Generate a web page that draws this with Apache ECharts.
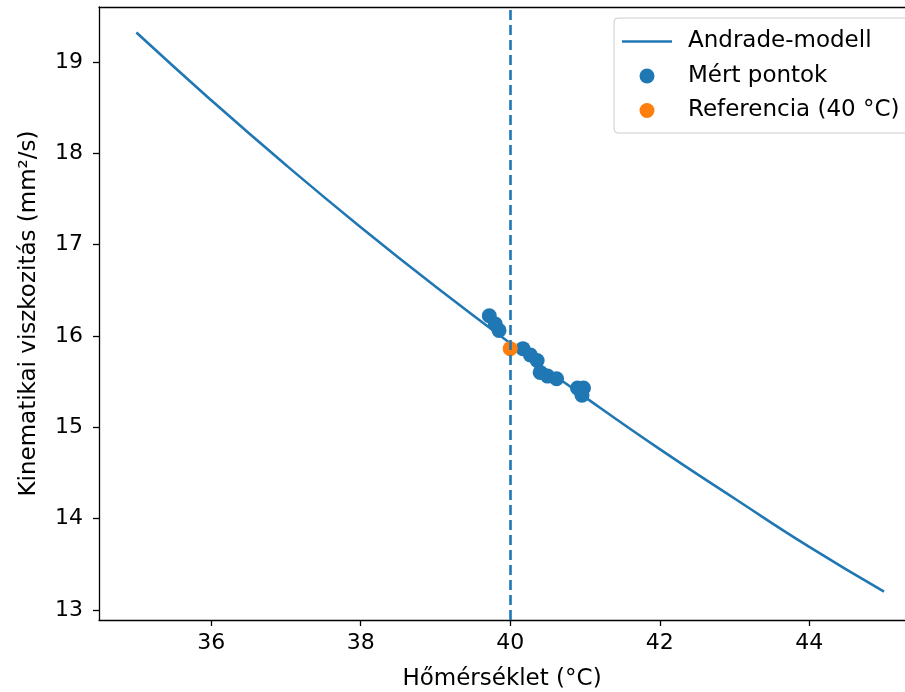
<!DOCTYPE html>
<html>
<head>
<meta charset="utf-8">
<script src="https://cdn.jsdelivr.net/npm/echarts@6/dist/echarts.min.js"></script>
<style>
html,body{margin:0;padding:0;background:#fff;}
#chart{width:905px;height:692px;}
</style>
</head>
<body>
<div id="chart"></div>
<script>
// Andrade model curve
const modelTemps = [35, 36, 37, 38, 39, 40, 41, 42, 43, 44, 45];
const modelVisc = [19.32, 18.58, 17.87, 17.19, 16.54, 15.92, 15.33, 14.76, 14.22, 13.69, 13.20];
// Measured points
const measTemps = [39.72, 39.80, 39.85, 40.17, 40.27, 40.36, 40.40, 40.50, 40.62, 40.90, 40.98, 40.96];
const measVisc = [16.22, 16.13, 16.06, 15.86, 15.79, 15.73, 15.60, 15.56, 15.53, 15.43, 15.43, 15.35];
// Reference point
const refTemp = [40.0];
const refVisc = [15.86];
// Tick labels
const xTicks = [36, 38, 40, 42, 44];
const yTicks = [13, 14, 15, 16, 17, 18, 19];

const seriesNames = ['Andrade-modell', 'Mért pontok', 'Referencia (40 °C)'];
const blue = '#1f77b4', orange = '#ff7f0e';
const font = 'DejaVu Sans';
const fs = 22, fsName = 23;

const chart = echarts.init(document.getElementById('chart'), null, {renderer: 'canvas'});
chart.setOption({
  animation: false,
  backgroundColor: '#fff',
  textStyle: {fontFamily: font},
  grid: {left: 99, top: 7, right: 0, bottom: 72, containLabel: false, outerBoundsMode: 'none'},
  legend: {
    orient: 'vertical',
    left: 614, top: 18,
    padding: [12, 40, 11, 8],
    itemWidth: 50, itemHeight: 15, itemGap: 11.5,
    backgroundColor: '#fff',
    borderColor: '#cccccc', borderWidth: 1, borderRadius: 4,
    textStyle: {fontFamily: font, fontSize: fsName, color: '#000', padding: [0, 0, 0, 11]},
    data: [
      {name: seriesNames[0], icon: 'path://M0,0 L50,0 L50,2.6 L0,2.6 Z'},
      {name: seriesNames[1], icon: 'circle'},
      {name: seriesNames[2], icon: 'circle'}
    ]
  },
  xAxis: [{
    type: 'value', min: 34.5, max: 45.28,
    splitLine: {show: false},
    axisLine: {show: true, onZero: false, lineStyle: {color: '#000', width: 1.3}},
    axisTick: {show: true, length: 6, lineStyle: {color: '#000', width: 1.3}, customValues: xTicks},
    axisLabel: {fontFamily: font, fontSize: fs, color: '#000', margin: 12, customValues: xTicks},
    name: 'Hőmérséklet (°C)', nameLocation: 'middle', nameGap: 48,
    nameTextStyle: {fontFamily: font, fontSize: fsName, color: '#000'}
  }, {
    type: 'value', position: 'top', min: 34.5, max: 45.28,
    splitLine: {show: false},
    axisLine: {show: true, onZero: false, lineStyle: {color: '#000', width: 1.3}},
    axisTick: {show: false}, axisLabel: {show: false}
  }],
  yAxis: {
    type: 'value', min: 12.89, max: 19.6,
    splitLine: {show: false},
    axisLine: {show: true, onZero: false, lineStyle: {color: '#000', width: 1.3}},
    axisTick: {show: true, length: 6, lineStyle: {color: '#000', width: 1.3}, customValues: yTicks},
    axisLabel: {fontFamily: font, fontSize: fs, color: '#000', margin: 16, customValues: yTicks},
    name: 'Kinematikai viszkozitás (mm²/s)', nameLocation: 'middle', nameGap: 58,
    nameTextStyle: {fontFamily: font, fontSize: fsName, color: '#000'}
  },
  series: [
    {
      name: seriesNames[0], type: 'line', symbol: 'none', smooth: true,
      data: modelTemps.map((t, i) => [t, modelVisc[i]]),
      lineStyle: {color: blue, width: 2.6}, itemStyle: {color: blue},
      z: 2
    },
    {
      name: seriesNames[1], type: 'scatter', symbol: 'circle', symbolSize: 15,
      data: measTemps.map((t, i) => [t, measVisc[i]]),
      itemStyle: {color: blue, opacity: 1}, z: 3
    },
    {
      name: seriesNames[2], type: 'scatter', symbol: 'circle', symbolSize: 15,
      data: refTemp.map((t, i) => [t, refVisc[i]]),
      itemStyle: {color: orange, opacity: 1}, z: 4
    },
    {
      name: 'refLine', type: 'line', data: [], z: 5,
      markLine: {
        silent: true, symbol: 'none', label: {show: false},
        lineStyle: {color: blue, width: 2.6, type: [10, 5]},
        data: [{xAxis: refTemp[0]}]
      }
    }
  ]
});
</script>
</body>
</html>
